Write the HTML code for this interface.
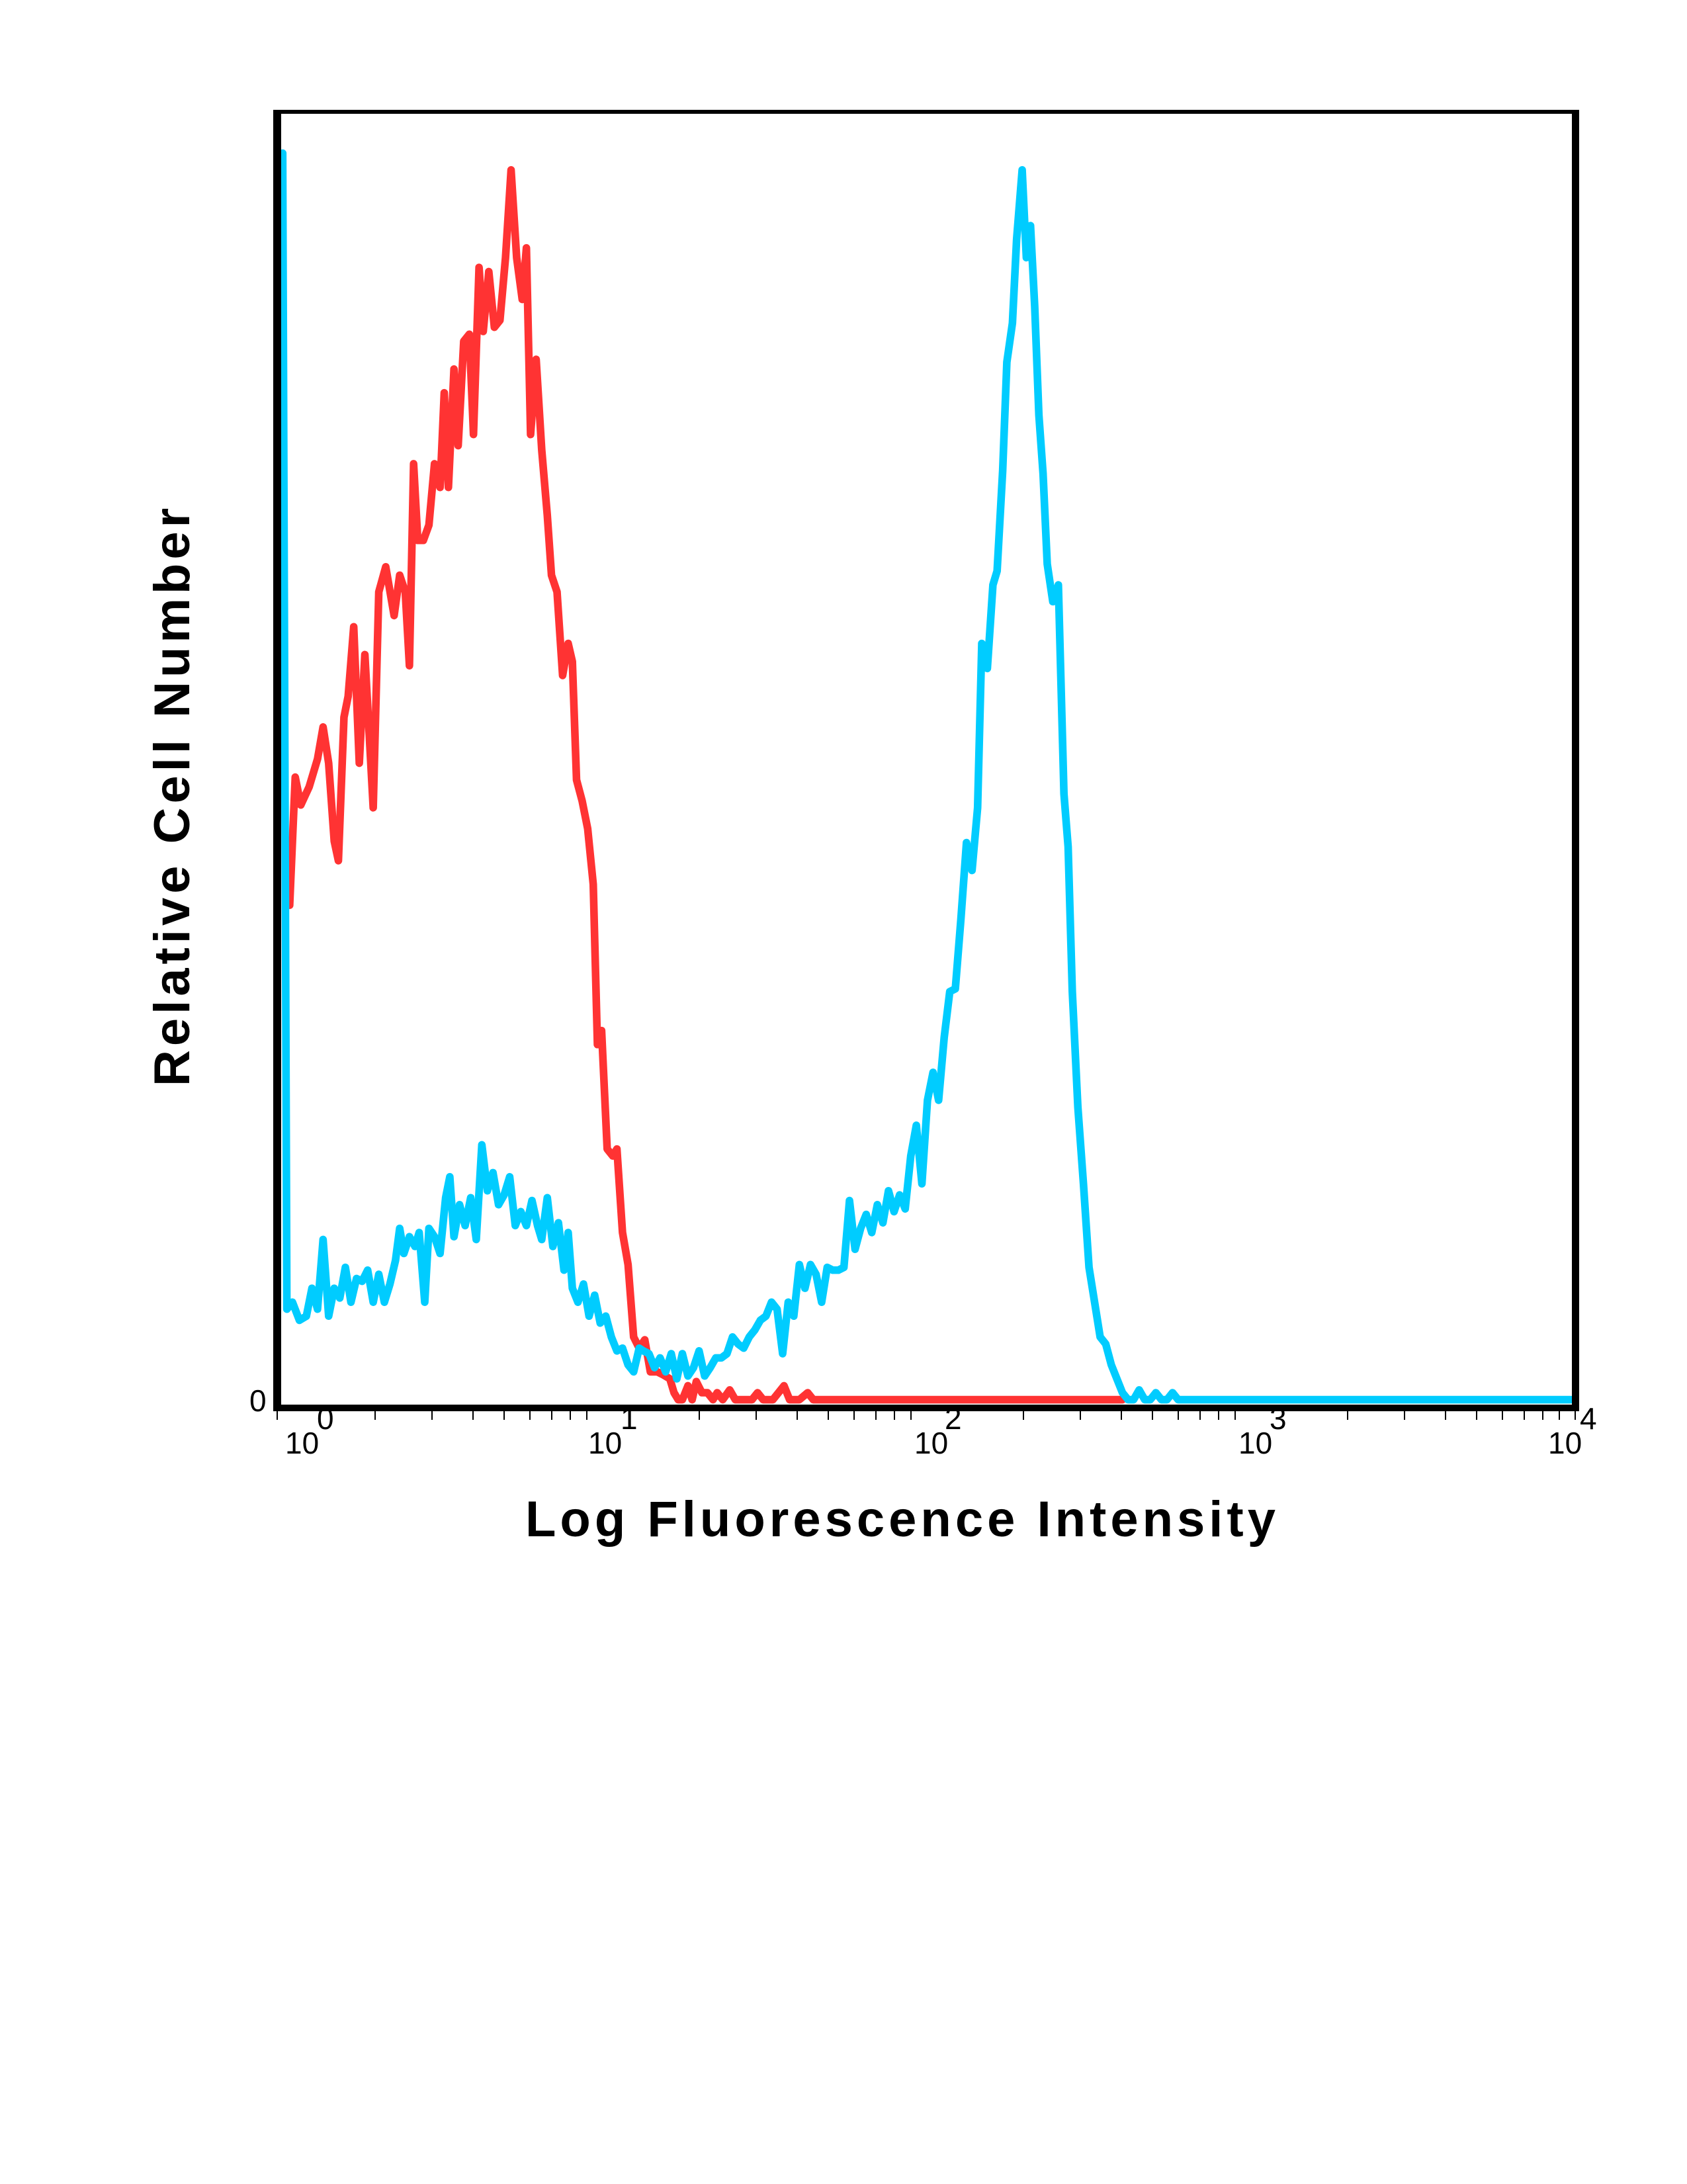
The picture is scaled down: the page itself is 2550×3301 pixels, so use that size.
<!DOCTYPE html>
<html><head><meta charset="utf-8"><style>
html,body{margin:0;padding:0;background:#fff;}
svg{display:block;}
text{font-family:"Liberation Sans",Arial,sans-serif;}
</style></head><body>
<svg width="2550" height="3301" viewBox="0 0 2550 3301" xmlns="http://www.w3.org/2000/svg">
<rect width="2550" height="3301" fill="#fff"/>
<g transform="scale(2.105)" fill="none" stroke-linejoin="round" stroke-linecap="round" stroke-width="5.5">
<polyline stroke="#ff3333" points="208,650 212,558 216,578 222,565 228,545 232,522 236,548 240,604 243,618 247,515 250,500 254,450 258,548 262,470 268,580 272,425 277,407 283,442 287,413 291,425 294,478 297,333 300,388 304,388 308,377 312,333 316,350 319,282 322,350 326,265 329,320 333,245 337,240 340,312 344,192 347,238 351,195 355,235 359,230 363,185 367,122 371,185 375,215 378,178 381,312 385,258 389,323 393,370 396,413 400,425 404,485 408,462 411,475 414,560 418,575 422,595 426,635 429,750 432,740 436,825 440,830 443,825 447,885 451,908 455,960 459,968 463,962 467,985 472,985 476,987 481,990 484,1000 487,1005 490,1005 494,995 497,1005 500,992 504,1000 508,1000 512,1005 515,1000 519,1005 524,998 528,1005 540,1005 544,1000 548,1005 555,1005 559,1000 563,995 567,1005 574,1005 580,1000 584,1005 806,1005"/>
<polyline stroke="#00ccff" points="203,110 206,940 210,935 215,948 220,945 224,925 228,940 232,890 236,945 240,925 244,932 248,910 252,935 256,918 260,920 264,912 268,935 272,915 276,935 280,922 284,905 287,882 290,900 294,888 298,895 301,885 305,935 308,882 312,888 316,900 320,860 323,845 326,888 330,865 334,880 338,860 342,890 346,822 350,855 354,842 358,865 362,858 366,845 370,880 374,870 378,880 382,862 386,880 389,890 393,860 397,895 401,878 405,912 408,885 411,925 415,935 419,922 423,945 427,930 431,950 435,945 439,960 443,970 447,968 451,980 455,985 459,968 462,970 466,972 470,982 474,975 478,985 482,972 486,990 490,972 494,988 498,982 502,970 506,988 510,982 514,975 518,975 522,972 526,960 530,965 534,968 538,960 542,955 546,948 550,945 554,935 558,940 562,972 566,935 570,945 574,908 578,925 582,908 586,915 590,935 594,910 598,912 602,912 606,910 610,862 614,897 618,882 622,872 626,885 630,865 634,878 638,855 642,870 646,858 650,868 654,830 658,808 662,850 666,790 670,770 674,790 678,745 682,712 686,710 690,660 694,605 698,625 702,580 705,462 709,480 713,420 716,410 720,338 723,260 727,232 730,172 734,122 737,185 740,162 743,220 746,298 749,340 752,405 756,432 760,420 764,570 767,608 770,712 774,795 778,850 782,910 786,935 790,960 794,965 798,980 802,990 806,1000 810,1005 814,1005 818,998 822,1005 826,1005 830,1000 834,1005 838,1005 842,1000 846,1005 1128,1005"/>
</g>
<!-- frame -->
<rect x="413" y="166" width="1974" height="6" fill="#000"/>
<rect x="413" y="166" width="12" height="1967" fill="#000"/>
<rect x="2376" y="166" width="11" height="1967" fill="#000"/>
<rect x="413" y="2123" width="1974" height="10" fill="#000"/>
<!-- ticks -->
<g stroke="#000" stroke-width="2" id="ticks"></g>
<g stroke="#000" stroke-width="2">
<line x1="419" y1="2133" x2="419" y2="2146"/>
<line x1="567" y1="2133" x2="567" y2="2146"/><line x1="653" y1="2133" x2="653" y2="2146"/><line x1="715" y1="2133" x2="715" y2="2146"/><line x1="762" y1="2133" x2="762" y2="2146"/><line x1="801" y1="2133" x2="801" y2="2146"/><line x1="834" y1="2133" x2="834" y2="2146"/><line x1="862" y1="2133" x2="862" y2="2146"/><line x1="887" y1="2133" x2="887" y2="2146"/>
<line x1="1057" y1="2133" x2="1057" y2="2146"/><line x1="1143" y1="2133" x2="1143" y2="2146"/><line x1="1205" y1="2133" x2="1205" y2="2146"/><line x1="1252" y1="2133" x2="1252" y2="2146"/><line x1="1291" y1="2133" x2="1291" y2="2146"/><line x1="1324" y1="2133" x2="1324" y2="2146"/><line x1="1352" y1="2133" x2="1352" y2="2146"/><line x1="1377" y1="2133" x2="1377" y2="2146"/>
<line x1="1547" y1="2133" x2="1547" y2="2146"/><line x1="1633" y1="2133" x2="1633" y2="2146"/><line x1="1695" y1="2133" x2="1695" y2="2146"/><line x1="1742" y1="2133" x2="1742" y2="2146"/><line x1="1781" y1="2133" x2="1781" y2="2146"/><line x1="1814" y1="2133" x2="1814" y2="2146"/><line x1="1842" y1="2133" x2="1842" y2="2146"/><line x1="1867" y1="2133" x2="1867" y2="2146"/>
<line x1="2037" y1="2133" x2="2037" y2="2146"/><line x1="2123" y1="2133" x2="2123" y2="2146"/><line x1="2185" y1="2133" x2="2185" y2="2146"/><line x1="2232" y1="2133" x2="2232" y2="2146"/><line x1="2271" y1="2133" x2="2271" y2="2146"/><line x1="2304" y1="2133" x2="2304" y2="2146"/><line x1="2332" y1="2133" x2="2332" y2="2146"/><line x1="2357" y1="2133" x2="2357" y2="2146"/><line x1="2381" y1="2133" x2="2381" y2="2146"/>
</g>
<!-- labels -->
<g font-size="46" fill="#000">
<text x="377" y="2133">0</text>
<text x="431" y="2197">10</text><text x="479" y="2160">0</text>
<text x="889" y="2197">10</text><text x="938" y="2160">1</text>
<text x="1382" y="2197">10</text><text x="1428" y="2160">2</text>
<text x="1872" y="2197">10</text><text x="1919" y="2160">3</text>
<text x="2340" y="2197">10</text><text x="2388" y="2160">4</text>
</g>
<text x="794" y="2322" font-size="76" font-weight="bold" letter-spacing="6" fill="#000">Log Fluorescence Intensity</text>
<text transform="translate(286,1642) rotate(-90)" x="0" y="0" font-size="76" font-weight="bold" letter-spacing="6" fill="#000">Relative Cell Number</text>
</svg>
</body></html>
